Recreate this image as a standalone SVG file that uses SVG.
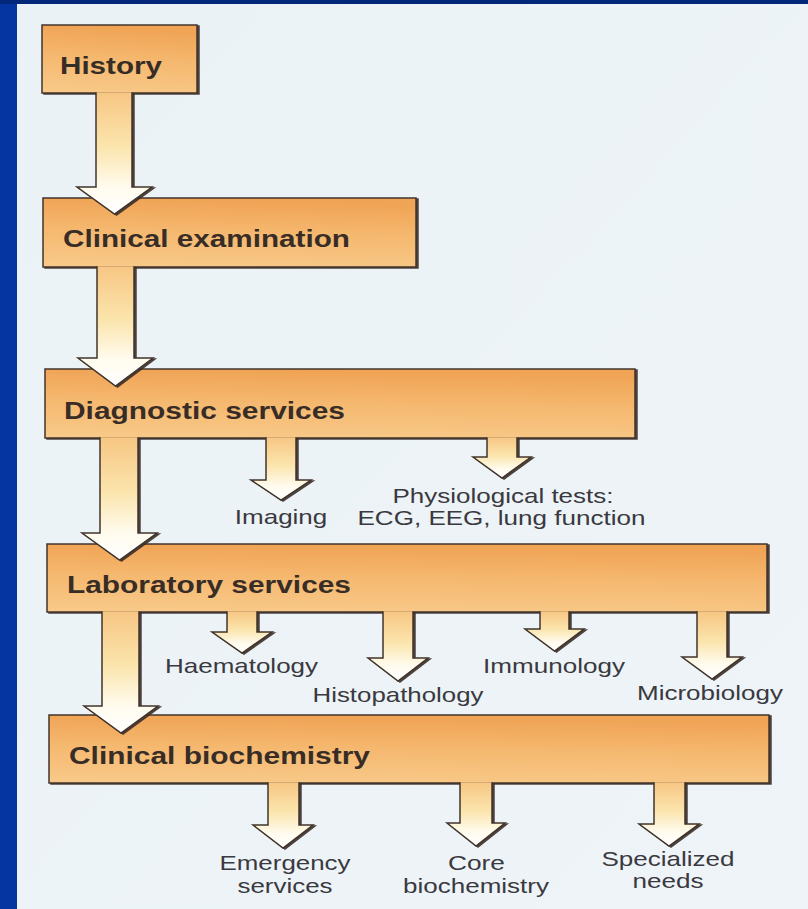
<svg xmlns="http://www.w3.org/2000/svg" width="808" height="909" viewBox="0 0 808 909">
  <defs>
    <linearGradient id="boxGrad" x1="0" y1="1" x2="0.12" y2="0">
      <stop offset="0" stop-color="#f8ca8a"/>
      <stop offset="0.55" stop-color="#f5b86f"/>
      <stop offset="1" stop-color="#f0a456"/>
    </linearGradient>
    <linearGradient id="arrowGrad" x1="0" y1="0" x2="0" y2="1">
      <stop offset="0" stop-color="#f7c683"/>
      <stop offset="0.45" stop-color="#fbe5ad"/>
      <stop offset="0.78" stop-color="#fffbee"/>
      <stop offset="1" stop-color="#ffffff"/>
    </linearGradient>
    <linearGradient id="bgGrad" x1="0" y1="0" x2="1" y2="1">
      <stop offset="0" stop-color="#ebf2f5"/>
      <stop offset="1" stop-color="#eef4f7"/>
    </linearGradient>
    <filter id="shadow" x="-5%" y="-5%" width="112%" height="115%">
      <feDropShadow dx="2" dy="1" stdDeviation="0.4" flood-color="#3a2e25" flood-opacity="0.9"/>
    </filter>
  </defs>
  <style>
    .box { fill: url(#boxGrad); stroke: #40342b; stroke-width: 1.5; filter: url(#shadow); }
    .arrow { fill: url(#arrowGrad); stroke: #40342b; stroke-width: 1.5; stroke-linejoin: miter; filter: url(#shadow); }
    .title { font-family: "Liberation Sans", Arial, sans-serif; font-weight: bold; font-size: 23.5px; fill: #382d26; }
    .label { font-family: "Liberation Sans", Arial, sans-serif; font-size: 21px; fill: #3a393f; }
  </style>

  <!-- background -->
  <rect x="0" y="0" width="808" height="909" fill="url(#bgGrad)"/>
  <rect x="0" y="0" width="17" height="909" fill="#0535a0"/>
  <rect x="0" y="0" width="808" height="4" fill="#03287a"/>

  <!-- nodes -->
  <g id="node-history">
    <rect class="box" x="42" y="25" width="155" height="68"/>
    <text class="title" x="60" y="74" textLength="102" lengthAdjust="spacingAndGlyphs">History</text>
  </g>
  <g id="node-clinical-examination">
    <rect class="box" x="43" y="198" width="373" height="69"/>
    <text class="title" x="63" y="247" textLength="287" lengthAdjust="spacingAndGlyphs">Clinical examination</text>
  </g>
  <g id="node-diagnostic-services">
    <rect class="box" x="45" y="369" width="590" height="69"/>
    <text class="title" x="64" y="419" textLength="281" lengthAdjust="spacingAndGlyphs">Diagnostic services</text>
  </g>
  <g id="node-laboratory-services">
    <rect class="box" x="47" y="544" width="720" height="68"/>
    <text class="title" x="67" y="593" textLength="284" lengthAdjust="spacingAndGlyphs">Laboratory services</text>
  </g>
  <g id="node-clinical-biochemistry">
    <rect class="box" x="49" y="715" width="720" height="68"/>
    <text class="title" x="69" y="764" textLength="301" lengthAdjust="spacingAndGlyphs">Clinical biochemistry</text>
  </g>

  <!-- connectors -->
  <g id="connectors">
    <path class="arrow" d="M96,92.2 L96,187 L77,187 L114.5,214 L152,187 L132,187 L132,92.2"/>
    <path class="arrow" d="M97,266.2 L97,358 L78,358 L115.5,386 L153,358 L134,358 L134,266.2"/>
    <path class="arrow" d="M100,437.2 L100,533 L82,533 L119.5,560 L157,533 L138,533 L138,437.2"/>
    <path class="arrow" d="M102,611.2 L102,706 L84,706 L121,733 L158,706 L139,706 L139,611.2"/>

    <path class="arrow" d="M266,437.2 L266,480 L251,480 L281,500 L311,480 L296,480 L296,437.2"/>
    <path class="arrow" d="M487,437.2 L487,457 L473,457 L502,478 L531,457 L517,457 L517,437.2"/>

    <path class="arrow" d="M227,611.2 L227,632 L212,632 L242,653 L272,632 L257,632 L257,611.2"/>
    <path class="arrow" d="M383,611.2 L383,658 L368,658 L398,681 L428,658 L413,658 L413,611.2"/>
    <path class="arrow" d="M540,611.2 L540,629 L525,629 L554.5,651 L584,629 L569,629 L569,611.2"/>
    <path class="arrow" d="M697,611.2 L697,657 L682,657 L712,679 L742,657 L727,657 L727,611.2"/>

    <path class="arrow" d="M268,782.2 L268,825 L253,825 L283,848 L313,825 L299,825 L299,782.2"/>
    <path class="arrow" d="M460,782.2 L460,823 L447,823 L476,846 L505,823 L492,823 L492,782.2"/>
    <path class="arrow" d="M654,782.2 L654,824 L639,824 L669,846 L699,824 L685,824 L685,782.2"/>
  </g>

  <!-- labels -->
  <g id="node-imaging">
    <text class="label" x="234.8" y="524" textLength="92.5" lengthAdjust="spacingAndGlyphs">Imaging</text>
  </g>
  <g id="node-physiological-tests">
    <text class="label" x="392.5" y="503" textLength="221" lengthAdjust="spacingAndGlyphs">Physiological tests:</text>
    <text class="label" x="357.5" y="525" textLength="288" lengthAdjust="spacingAndGlyphs">ECG, EEG, lung function</text>
  </g>
  <g id="node-haematology">
    <text class="label" x="165" y="673" textLength="153" lengthAdjust="spacingAndGlyphs">Haematology</text>
  </g>
  <g id="node-histopathology">
    <text class="label" x="312.5" y="702" textLength="171" lengthAdjust="spacingAndGlyphs">Histopathology</text>
  </g>
  <g id="node-immunology">
    <text class="label" x="483" y="673" textLength="142" lengthAdjust="spacingAndGlyphs">Immunology</text>
  </g>
  <g id="node-microbiology">
    <text class="label" x="637" y="700" textLength="146" lengthAdjust="spacingAndGlyphs">Microbiology</text>
  </g>
  <g id="node-emergency-services">
    <text class="label" x="219.5" y="870" textLength="131" lengthAdjust="spacingAndGlyphs">Emergency</text>
    <text class="label" x="237.5" y="893" textLength="95" lengthAdjust="spacingAndGlyphs">services</text>
  </g>
  <g id="node-core-biochemistry">
    <text class="label" x="448" y="870" textLength="57" lengthAdjust="spacingAndGlyphs">Core</text>
    <text class="label" x="403" y="893" textLength="146" lengthAdjust="spacingAndGlyphs">biochemistry</text>
  </g>
  <g id="node-specialized-needs">
    <text class="label" x="601.5" y="866" textLength="133" lengthAdjust="spacingAndGlyphs">Specialized</text>
    <text class="label" x="632.5" y="888" textLength="71" lengthAdjust="spacingAndGlyphs">needs</text>
  </g>
</svg>
